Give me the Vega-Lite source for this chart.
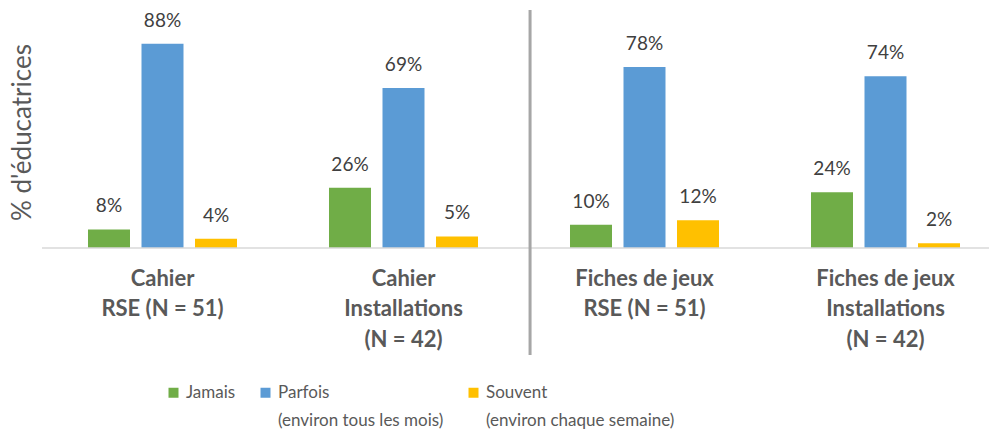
{
  "$schema": "https://vega.github.io/schema/vega-lite/v6.json",
  "width": 947,
  "height": 232,
  "autosize": "none",
  "padding": {"left": 42, "top": 16, "right": 6, "bottom": 186},
  "config": {"view": {"stroke": null}, "font": "Lato"},
  "data": {"values": [
    {"group": "Cahier|RSE (N = 51)", "freq": "Jamais", "value": 0.08},
    {"group": "Cahier|RSE (N = 51)", "freq": "Parfois|(environ tous les mois)", "value": 0.88},
    {"group": "Cahier|RSE (N = 51)", "freq": "Souvent|(environ chaque semaine)", "value": 0.04},
    {"group": "Cahier|Installations|(N = 42)", "freq": "Jamais", "value": 0.26},
    {"group": "Cahier|Installations|(N = 42)", "freq": "Parfois|(environ tous les mois)", "value": 0.69},
    {"group": "Cahier|Installations|(N = 42)", "freq": "Souvent|(environ chaque semaine)", "value": 0.05},
    {"group": "Fiches de jeux|RSE (N = 51)", "freq": "Jamais", "value": 0.10},
    {"group": "Fiches de jeux|RSE (N = 51)", "freq": "Parfois|(environ tous les mois)", "value": 0.78},
    {"group": "Fiches de jeux|RSE (N = 51)", "freq": "Souvent|(environ chaque semaine)", "value": 0.12},
    {"group": "Fiches de jeux|Installations|(N = 42)", "freq": "Jamais", "value": 0.24},
    {"group": "Fiches de jeux|Installations|(N = 42)", "freq": "Parfois|(environ tous les mois)", "value": 0.74},
    {"group": "Fiches de jeux|Installations|(N = 42)", "freq": "Souvent|(environ chaque semaine)", "value": 0.02}
  ]},
  "layer": [
    {
      "mark": {"type": "bar"},
      "encoding": {
        "x": {"field": "group", "type": "nominal",
          "sort": ["Cahier|RSE (N = 51)", "Cahier|Installations|(N = 42)", "Fiches de jeux|RSE (N = 51)", "Fiches de jeux|Installations|(N = 42)"],
          "scale": {"range": [0, 964], "paddingInner": 0.334, "paddingOuter": 0.167},
          "axis": {"title": null, "labelAngle": 0, "ticks": false, "domain": false,
            "labelExpr": "split(datum.label, '|')", "labelFont": "Lato", "labelFontWeight": "bold",
            "labelFontSize": 22, "labelColor": "#595959", "labelLineHeight": 30.5,
            "labelPadding": 20, "labelBaseline": "top", "labelLimit": 0}},
        "xOffset": {"field": "freq", "type": "nominal",
          "sort": ["Jamais", "Parfois|(environ tous les mois)", "Souvent|(environ chaque semaine)"],
          "scale": {"paddingInner": 0.215, "paddingOuter": 0.1075}},
        "y": {"field": "value", "type": "quantitative",
          "scale": {"domain": [0, 1], "nice": false},
          "axis": {"title": "% d'éducatrices", "labels": false, "ticks": false, "domain": false, "grid": false,
            "titleFont": "Lato", "titleFontSize": 26, "titleFontWeight": "normal", "titleColor": "#595959", "titlePadding": 7}},
        "color": {"field": "freq", "type": "nominal",
          "sort": ["Jamais", "Parfois|(environ tous les mois)", "Souvent|(environ chaque semaine)"],
          "scale": {"range": ["#70AD47", "#5B9BD5", "#FFC000"]},
          "legend": {"title": null, "orient": "none", "direction": "horizontal", "legendX": 123, "legendY": 368,
            "symbolType": "square", "symbolSize": 100, "symbolStrokeWidth": 0,
            "labelExpr": "indexof(datum.label, '|') >= 0 ? split(datum.label, '|') : [datum.label, ' ']",
            "labelFont": "Lato", "labelFontSize": 17, "labelColor": "#595959",
            "labelLimit": 0, "labelOffset": 4, "columnPadding": 21, "labelBaseline": "middle",
            "encode": {"labels": {"update": {"lineHeight": {"value": 28}}}}}}
      }
    },
    {
      "mark": {"type": "text", "baseline": "alphabetic", "dy": -17, "fontSize": 19, "color": "#404040", "font": "Lato"},
      "encoding": {
        "x": {"field": "group", "type": "nominal",
          "sort": ["Cahier|RSE (N = 51)", "Cahier|Installations|(N = 42)", "Fiches de jeux|RSE (N = 51)", "Fiches de jeux|Installations|(N = 42)"]},
        "xOffset": {"field": "freq", "type": "nominal",
          "sort": ["Jamais", "Parfois|(environ tous les mois)", "Souvent|(environ chaque semaine)"]},
        "y": {"field": "value", "type": "quantitative"},
        "text": {"field": "value", "type": "quantitative", "format": ".0%"}
      }
    },
    {
      "data": {"values": [{}]},
      "mark": {"type": "rule", "color": "#d9d9d9", "strokeWidth": 1.5},
      "encoding": {"y": {"datum": 0, "type": "quantitative"}}
    },
    {
      "data": {"values": [{}]},
      "mark": {"type": "rule", "color": "#a6a6a6", "strokeWidth": 3},
      "encoding": {
        "x": {"datum": "Fiches de jeux|RSE (N = 51)", "type": "nominal", "bandPosition": -0.213},
        "y": {"datum": 1.026, "type": "quantitative"},
        "y2": {"datum": -0.461}
      }
    }
  ]
}
